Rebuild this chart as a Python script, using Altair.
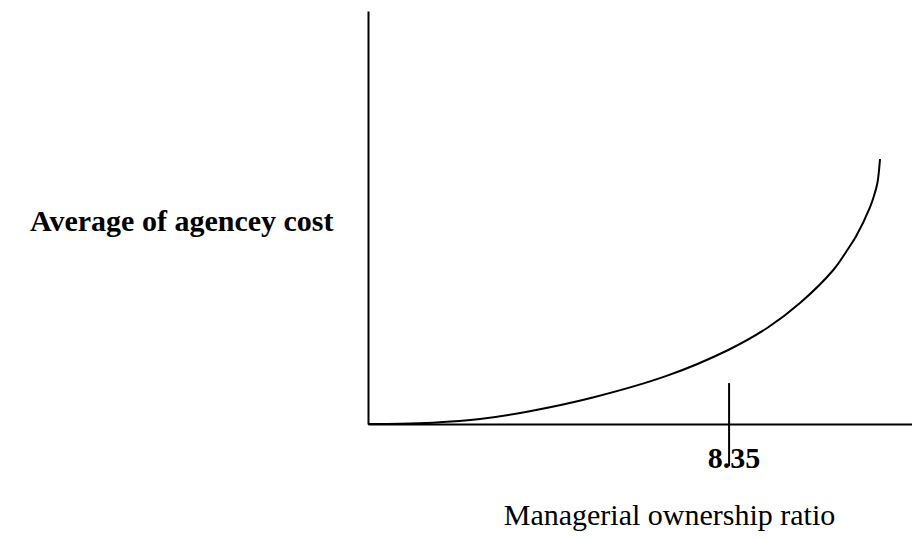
import altair as alt
import pandas as pd

# Curve readings (managerial ownership ratio vs. average agency cost)
ratio = [0, 0.74, 1.50, 2.59, 3.68, 5.20, 6.92, 8.33, 9.23, 9.99, 10.76, 11.10, 11.29, 11.61, 11.70, 11.78, 11.84]
cost = [0, 0.05, 0.31, 1.21, 2.98, 6.42, 11.70, 17.92, 23.24, 29.30, 37.29, 42.37, 45.52, 52.54, 55.21, 58.35, 64.16]

# Threshold marker
marker_x = [8.35]
marker_top = [9.9]
marker_bottom = [-10.2]
marker_label = ["8.35"]
label_y = [-10.6]

x_title = "Managerial ownership ratio"
y_title = "Average of agencey cost"

FONT = "Liberation Serif"

curve_df = pd.DataFrame({"ratio": ratio, "cost": cost})
marker_df = pd.DataFrame({"x": marker_x, "top": marker_top, "bottom": marker_bottom,
                          "label": marker_label, "ly": label_y})

xs = alt.Scale(domain=[0, 12.58], nice=False, zero=False)
ys = alt.Scale(domain=[0, 100], nice=False, zero=False)

curve = alt.Chart(curve_df).mark_line(
    color="black", strokeWidth=2, interpolate="catmull-rom", clip=False
).encode(
    x=alt.X("ratio:Q", scale=xs, axis=alt.Axis(
        title=x_title, labels=False, ticks=False, grid=False,
        domainColor="black", domainWidth=2,
        titleFont=FONT, titleFontSize=30, titleFontWeight="normal", titleColor="black",
        titleX=301, titleY=100, titleAlign="center", titleBaseline="alphabetic")),
    y=alt.Y("cost:Q", scale=ys, axis=alt.Axis(
        title=y_title, labels=False, ticks=False, grid=False,
        domainColor="black", domainWidth=2,
        titleFont=FONT, titleFontSize=30, titleFontWeight="bold", titleColor="black",
        titleAngle=0, titleX=-35, titleY=219, titleAlign="right", titleBaseline="alphabetic")),
)

tick = alt.Chart(marker_df).mark_rule(color="black", strokeWidth=2, clip=False).encode(
    x=alt.X("x:Q", scale=xs),
    y=alt.Y("top:Q", scale=ys),
    y2="bottom:Q",
)

label = alt.Chart(marker_df).mark_text(
    font=FONT, fontSize=30, fontWeight="bold", color="black",
    align="center", baseline="alphabetic", dx=5, clip=False
).encode(
    x=alt.X("x:Q", scale=xs),
    y=alt.Y("ly:Q", scale=ys),
    text="label:N",
)

chart = alt.layer(curve, tick, label).properties(
    width=544, height=413,
    background="white",
    autosize=alt.AutoSizeParams(type="none"),
    padding={"left": 360, "top": 3, "right": 0, "bottom": 107},
).configure_view(strokeWidth=0).configure_axis(grid=False, ticks=False)

chart.save("out.html", embed_options={"renderer": "svg", "actions": False})
